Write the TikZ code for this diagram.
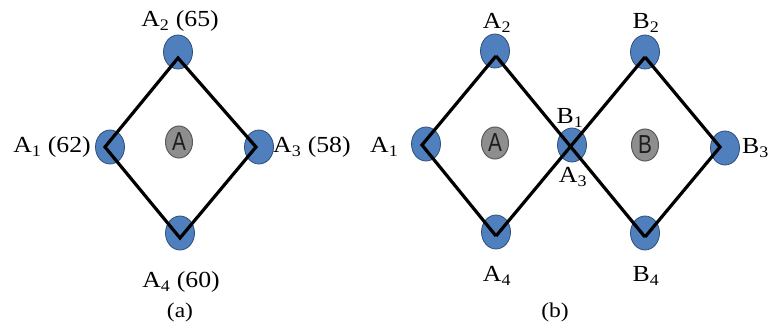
\documentclass[tikz,border=0pt]{standalone}
\usepackage{fontspec}
\usepackage{graphicx}
\setmainfont[FakeStretch=1.12]{Liberation Serif}
\newfontfamily\labsans{Liberation Sans}
\usetikzlibrary{shapes.geometric}
\definecolor{dotblue}{HTML}{4F7FBD}
\definecolor{dotedge}{HTML}{2F4F7A}
\definecolor{midgray}{HTML}{8E8E8E}
\definecolor{midedge}{HTML}{5A5A5A}
\definecolor{midtext}{HTML}{1E1E1E}
\newcommand{\midletter}[1]{\scalebox{0.8}[1]{#1}}
\begin{document}
\begin{tikzpicture}[x=1pt,y=-1pt,
  dot/.style={ellipse,fill=dotblue,draw=dotedge,line width=0.8pt,minimum width=29pt,minimum height=34pt,inner sep=0pt},
  mid/.style={ellipse,fill=midgray,draw=midedge,line width=1pt,minimum width=27pt,minimum height=32pt,inner sep=0pt,
     font=\labsans\fontsize{26}{26}\selectfont,text=midtext},
  dline/.style={line width=3.2pt,black,line join=miter},
  lab/.style={font=\fontsize{23}{23}\selectfont,inner sep=0pt},
  captext/.style={font=\fontsize{21}{21}\selectfont,inner sep=0pt}]
\useasboundingbox (0,0) rectangle (768,329);
% ---------- panel (a) ----------
\node[dot] (a2) at (178,52) {};
\node[dot] (a1) at (110,147) {};
\node[dot] (a3) at (259,147) {};
\node[dot] (a4) at (180,233) {};
\node[mid] (ac) at (179,142) {\midletter{A}};
\coordinate (a2t) at (178,58);
\coordinate (a1t) at (105,147);
\coordinate (a3t) at (256,147);
\coordinate (a4t) at (180,238);
\draw[dline] (a1t) -- (a2t) -- (a3t) -- (a4t) -- cycle;
\node[lab] (la2) at (180,21) {A\textsubscript{2} (65)};
\node[lab,anchor=east] (la1) at (91,147) {A\textsubscript{1} (62)};
\node[lab,anchor=west] (la3) at (273,147) {A\textsubscript{3} (58)};
\node[lab] (la4) at (181,282) {A\textsubscript{4} (60)};
\node[captext] (capa) at (180,312) {(a)};
% ---------- panel (b) ----------
\node[dot] (b_a1) at (426,144) {};
\node[dot] (b_a2) at (495,51) {};
\node[dot] (b_a4) at (496,232) {};
\node[dot] (bx) at (572,145) {};
\node[dot] (bb2) at (645,52) {};
\node[dot] (bb3) at (725,148) {};
\node[dot] (bb4) at (645,233) {};
\node[mid] (bac) at (495,143) {\midletter{A}};
\node[mid] (bbc) at (645,145) {\midletter{B}};
\coordinate (ba1t) at (422,145);
\coordinate (ba2t) at (496,56);
\coordinate (ba4t) at (496,236);
\coordinate (bb2t) at (645,57);
\coordinate (bb3t) at (720,147);
\coordinate (bb4t) at (645,237);
\draw[dline] (ba2t) -- (ba1t) -- (ba4t);
\draw[dline] (ba2t) -- (bb4t);
\draw[dline] (ba4t) -- (bb2t);
\draw[dline] (bb2t) -- (bb3t) -- (bb4t);
\node[lab] (lba2) at (497,23) {A\textsubscript{2}};
\node[lab] (lbb2) at (646,23) {B\textsubscript{2}};
\node[lab,anchor=west] (lba1) at (370,147) {A\textsubscript{1}};
\node[lab,anchor=west] (lbb3) at (742,148) {B\textsubscript{3}};
\node[lab] (lbb1) at (570,118) {B\textsubscript{1}};
\node[lab] (lba3) at (573,177) {A\textsubscript{3}};
\node[lab] (lba4) at (497,276) {A\textsubscript{4}};
\node[lab] (lbb4) at (646,276) {B\textsubscript{4}};
\node[captext] (capb) at (555,312) {(b)};
\end{tikzpicture}
\end{document}
